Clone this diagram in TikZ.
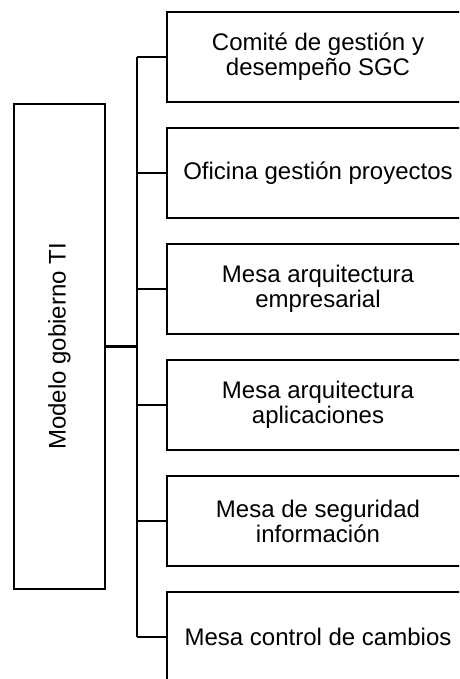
\documentclass[tikz,border=0pt]{standalone}
\usepackage{fontspec}
\setmainfont{Liberation Sans}
\usetikzlibrary{positioning}

\tikzset{
  gbox/.style={draw, line width=2pt, minimum width=302pt, minimum height=90pt,
    inner sep=0pt, align=center, font=\fontsize{24}{25}\selectfont},
  link/.style={line width=2.4pt}
}

\begin{document}
\begin{tikzpicture}[x=1pt, y=-1pt, node distance=24pt]

\useasboundingbox (0,0) rectangle (459,679);
\clip (0,0) rectangle (459,679);

\node[draw, line width=2pt, minimum width=91pt, minimum height=485pt, inner sep=0pt]
  (modelo) at (59.5,346.5) {};
\node[rotate=90, font=\fontsize{24}{25}\selectfont] at (modelo.center) {Modelo gobierno TI};

\node[gbox] (comite) at (318,57) {Comité de gestión y\\desempeño SGC};
\node[gbox, below = of comite] (oficina) {Oficina gestión proyectos};
\node[gbox, below = of oficina] (empresarial) {Mesa arquitectura\\empresarial};
\node[gbox, below = of empresarial] (aplicaciones) {Mesa arquitectura\\aplicaciones};
\node[gbox, below = of aplicaciones] (seguridad) {Mesa de seguridad\\información};
\node[gbox, below = of seguridad] (cambios) {Mesa control de cambios};

\coordinate (bus) at (136.7,346.5);

\draw[link] (bus |- comite.west) -- (bus |- cambios.west);
\draw[link] (modelo.east) -- (bus);
\foreach \n in {comite, oficina, empresarial, aplicaciones, seguridad, cambios}
  \draw[link] (bus |- \n.west) -- (\n.west);

\end{tikzpicture}
\end{document}
